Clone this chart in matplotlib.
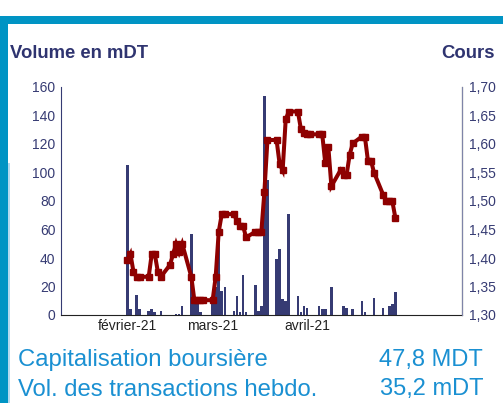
import matplotlib
matplotlib.use('Agg')
import matplotlib.pyplot as plt
import matplotlib.dates as mdates
import pandas as pd
from matplotlib.patches import Rectangle

plt.rcParams['font.family'] = ['Liberation Sans', 'DejaVu Sans']

# ---- data ----
dates = pd.bdate_range('2021-02-01', '2021-04-30')
volume = [105, 4, 0, 14, 4, 3, 4, 2, 0, 3, 0, 0, 1, 1, 6, 57, 10, 8, 2, 0,
          8, 20, 53, 17, 20, 3, 13, 2, 28, 2, 21, 3, 6, 154, 95, 39, 46, 11, 10, 71, 13, 2, 6,
          5, 0, 6, 4, 4, 0, 20, 0, 6, 5, 0, 4, 10, 2, 0, 0, 12, 5, 0, 6, 8, 16]
cours = [1.396, 1.407, 1.376, 1.367, 1.367, 1.367, 1.407, 1.407, 1.376, 1.367,
         1.388, 1.407, 1.425, 1.410, 1.425, 1.367, 1.326, 1.326, 1.326, 1.326,
         1.326, 1.367, 1.446, 1.477, 1.477, 1.477, 1.465, 1.456, 1.456, 1.436,
         1.446, 1.446, 1.446, 1.516, 1.607, 1.607, 1.565, 1.554, 1.643, 1.657,
         1.657, 1.626, 1.620,
         1.617, 1.617, 1.617, 1.617, 1.566, 1.595, 1.526, 1.554, 1.546, 1.546, 1.581, 1.601,
         1.613, 1.613, 1.571, 1.571, 1.550, 1.511, 1.500, 1.500, 1.500, 1.471]
month_ticks = ['2021-02-01', '2021-03-01', '2021-04-01']
month_labels = ['février-21', 'mars-21', 'avril-21']
vol_ticks = [0, 20, 40, 60, 80, 100, 120, 140, 160]
cours_ticks = [1.30, 1.35, 1.40, 1.45, 1.50, 1.55, 1.60, 1.65, 1.70]
stats_labels = ['Capitalisation boursière', 'Vol. des transactions hebdo.']
stats_values = ['47,8 MDT', '35,2 mDT']

W, H = 503, 403
fig = plt.figure(figsize=(W / 100, H / 100), dpi=100)

navy = '#363b73'
red = '#8e0000'
blue = '#0094c4'
txtblue = '#1a90d2'

# frame
fig.add_artist(Rectangle((0, 1 - 24 / H), 1, 8 / H, transform=fig.transFigure,
                         color=blue, lw=0))
fig.add_artist(Rectangle((0, 0), 8 / W, 1 - 16 / H, transform=fig.transFigure,
                         color=blue, lw=0))
fig.add_artist(Rectangle((8 / W, 0), 2 / W, 1 - 163 / H, transform=fig.transFigure,
                         color='#b5d9ee', lw=0))

ax = fig.add_axes([61 / W, (H - 315) / H, (462 - 61) / W, (315 - 87) / H])
ax2 = ax.twinx()

x = mdates.date2num(dates)
ax.bar(x, volume, width=0.85, color=navy, lw=0)
ax2.plot(x, cours, color=red, lw=2.9, marker='s', ms=4.5, mec=red, mfc=red,
         solid_joinstyle='miter')

x0 = mdates.date2num(pd.Timestamp('2021-02-01'))
ax.set_xlim(x0 - 21.8, x0 + 109.9)
ax.set_ylim(0, 160)
ax2.set_ylim(1.30, 1.70)

ax.set_xticks(mdates.date2num(pd.to_datetime(month_ticks)))
ax.set_xticklabels(month_labels, fontsize=10, color='#222222')
ax.set_yticks(vol_ticks)
ax.set_yticklabels([str(v) for v in vol_ticks], fontsize=10, color=navy)
ax2.set_yticks(cours_ticks)
ax2.set_yticklabels([f'{v:.2f}'.replace('.', ',') for v in cours_ticks],
                    fontsize=10, color=navy)
ax.tick_params(axis='both', length=0, pad=4)
ax2.tick_params(axis='y', length=0, pad=5)
ax.tick_params(axis='x', pad=3)

for a in (ax, ax2):
    a.spines['top'].set_visible(False)
    a.set_facecolor('none')
ax.spines['left'].set_color(navy)
ax.spines['bottom'].set_color('#222222')
ax2.spines['right'].set_color('#7f84a8')
ax2.spines['left'].set_visible(False)
ax2.spines['bottom'].set_visible(False)

fig.text(10 / W, 1 - 53 / H, 'Volume en mDT', fontsize=13.3, fontweight='bold',
         color='#2f3470', va='center', ha='left')
fig.text(495 / W, 1 - 53 / H, 'Cours', fontsize=13.3, fontweight='bold',
         color='#2f3470', va='center', ha='right')

for i, (lab, val) in enumerate(zip(stats_labels, stats_values)):
    yy = 1 - (360 + i * 29.5) / H
    fig.text(18 / W, yy, lab, fontsize=17.2, color=txtblue, va='center', ha='left')
    fig.text(483 / W, yy, val, fontsize=17.0, color=txtblue, va='center', ha='right')

fig.savefig('out.png', dpi=100)
